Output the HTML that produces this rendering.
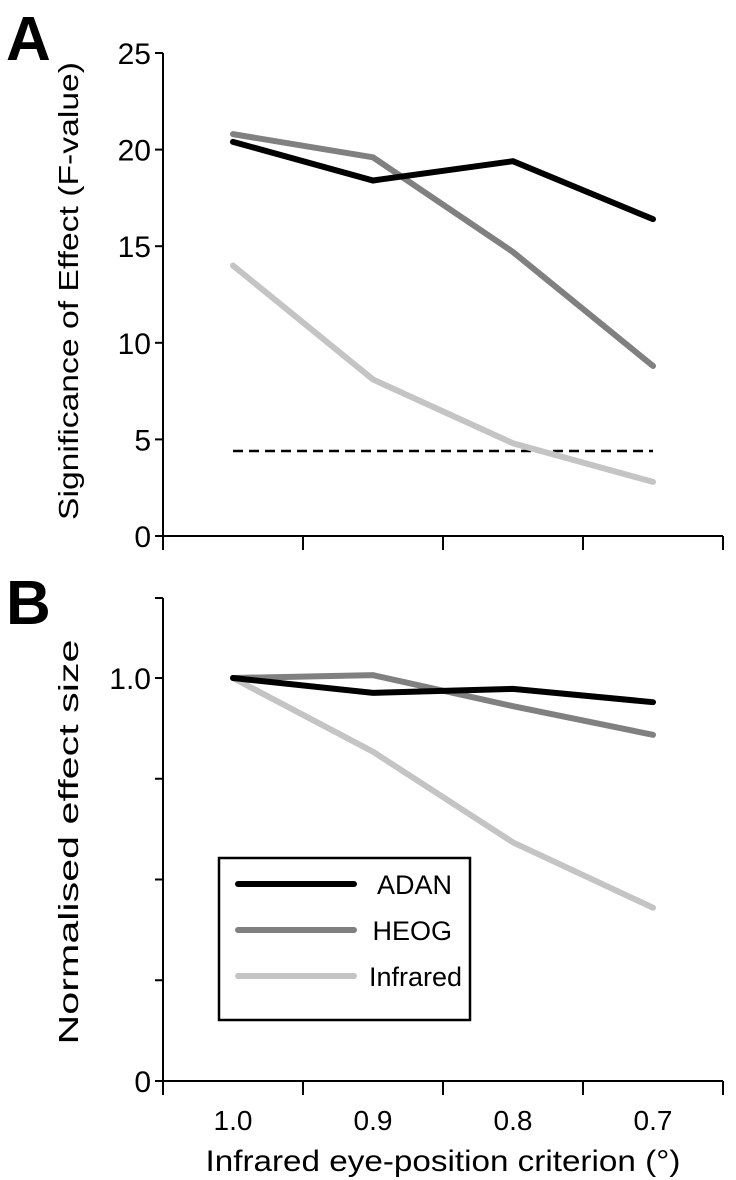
<!DOCTYPE html>
<html><head><meta charset="utf-8"><style>
html,body{margin:0;padding:0;background:#fff;}
svg{display:block;font-family:"Liberation Sans",Arial,sans-serif;}
</style></head><body>
<svg id="chart" width="736" height="1180" xmlns="http://www.w3.org/2000/svg"></svg>
<script>
const categories = ["1.0","0.9","0.8","0.7"];
const aAdan = [20.4, 18.4, 19.4, 16.4];
const aHeog = [20.8, 19.6, 14.7, 8.8];
const aInfrared = [14.0, 8.1, 4.8, 2.8];
const aThreshold = 4.4;
const aTicks = [0,5,10,15,20,25];
const bAdan = [1.0, 0.963, 0.973, 0.94];
const bHeog = [1.0, 1.007, 0.93, 0.859];
const bInfrared = [1.0, 0.817, 0.592, 0.43];
const bTicks = [0,0.25,0.5,0.75,1.0];
const bTickLabels = ["0","","","","1.0"];

const NS="http://www.w3.org/2000/svg";
const svg=document.getElementById('chart');
function el(tag,attrs,parent){const e=document.createElementNS(NS,tag);for(const k in attrs)e.setAttribute(k,attrs[k]);(parent||svg).appendChild(e);return e;}
function txt(s,attrs){const t=el('text',attrs);t.textContent=s;return t;}
const x0=163,x1=723,step=(x1-x0)/categories.length;
function xPos(i){return x0+step*(i+0.5);}
function yA(v){return 536-(v/25)*(536-53);}
function yB(v){return 1081-v*(1081-678);}
const colors={ADAN:"#000",HEOG:"#808080",Infrared:"#c4c4c4"};
const TICKFS=30, TITLEFS=28;

// Panel A
let t=txt("A",{x:6,y:60,"font-size":62,"font-weight":"bold"});


let ax=el('line',{x1:x0,y1:53,x2:x0,y2:550,stroke:"#000","stroke-width":2});


ax=el('line',{x1:x0,y1:536,x2:x1,y2:536,stroke:"#000","stroke-width":2});


for(let i=0;i<=categories.length;i++){const l=el('line',{x1:x0+step*i,y1:536,x2:x0+step*i,y2:550,stroke:"#000","stroke-width":2});

}
aTicks.forEach(v=>{const y=yA(v);const l=el('line',{x1:x0-8,y1:y,x2:x0,y2:y,stroke:"#000","stroke-width":2});


const tt=txt(String(v),{x:x0-12,y:y+11,"font-size":TICKFS,"text-anchor":"end"});

});
t=txt("Significance of Effect (F-value)",{x:0,y:0,"font-size":TITLEFS,"text-anchor":"middle",textLength:458,lengthAdjust:"spacingAndGlyphs",transform:"translate(78,291) rotate(-90)"});


let d=el('line',{x1:xPos(0),y1:yA(aThreshold),x2:xPos(3),y2:yA(aThreshold),stroke:"#000","stroke-width":2.5,"stroke-dasharray":"10,6"});


function series(arr,yf,col,name){const pts=arr.map((v,i)=>xPos(i)+","+yf(v)).join(" ");
const p=el('polyline',{points:pts,fill:"none",stroke:col,"stroke-width":6,"stroke-linejoin":"miter","stroke-linecap":"round"});

}
series(aInfrared,yA,colors.Infrared,'panel-a-infrared-line');
series(aHeog,yA,colors.HEOG,'panel-a-heog-line');
series(aAdan,yA,colors.ADAN,'panel-a-adan-line');

// Panel B
t=txt("B",{x:6,y:624,"font-size":62,"font-weight":"bold"});


ax=el('line',{x1:x0,y1:598,x2:x0,y2:1095,stroke:"#000","stroke-width":2});


const capLine=el('line',{x1:x0-8,y1:598,x2:x0,y2:598,stroke:"#000","stroke-width":2});


ax=el('line',{x1:x0,y1:1081,x2:x1,y2:1081,stroke:"#000","stroke-width":2});


for(let i=0;i<=categories.length;i++){const l=el('line',{x1:x0+step*i,y1:1081,x2:x0+step*i,y2:1095,stroke:"#000","stroke-width":2});

}
bTicks.forEach((v,i)=>{const y=yB(v);const l=el('line',{x1:x0-8,y1:y,x2:x0,y2:y,stroke:"#000","stroke-width":2});


if(bTickLabels[i]){const tt=txt(bTickLabels[i],{x:x0-12,y:y+11,"font-size":TICKFS,"text-anchor":"end"});

}});
categories.forEach((c,i)=>{const tt=txt(c,{x:xPos(i),y:1130,"font-size":28,"text-anchor":"middle"});

});
t=txt("Infrared eye-position criterion (°)",{x:443,y:1171,"font-size":30,"text-anchor":"middle",textLength:475,lengthAdjust:"spacingAndGlyphs"});


t=txt("Normalised effect size",{x:0,y:0,"font-size":TITLEFS,"text-anchor":"middle",textLength:405,lengthAdjust:"spacingAndGlyphs",transform:"translate(78,842) rotate(-90)"});


series(bInfrared,yB,colors.Infrared,'panel-b-infrared-line');
series(bHeog,yB,colors.HEOG,'panel-b-heog-line');
series(bAdan,yB,colors.ADAN,'panel-b-adan-line');

// Legend
const lg=el('rect',{x:219,y:858,width:251,height:162,fill:"#fff",stroke:"#000","stroke-width":2.5});


[["ADAN",884],["HEOG",930],["Infrared",976]].forEach(([n,y])=>{
const l=el('line',{x1:238,y1:y,x2:354,y2:y,stroke:colors[n],"stroke-width":6,"stroke-linecap":"round"});


const tt=txt(n,{x:n==="Infrared"?462:452,y:y+10,"font-size":27,"text-anchor":"end"});

});
</script>
</body></html>
